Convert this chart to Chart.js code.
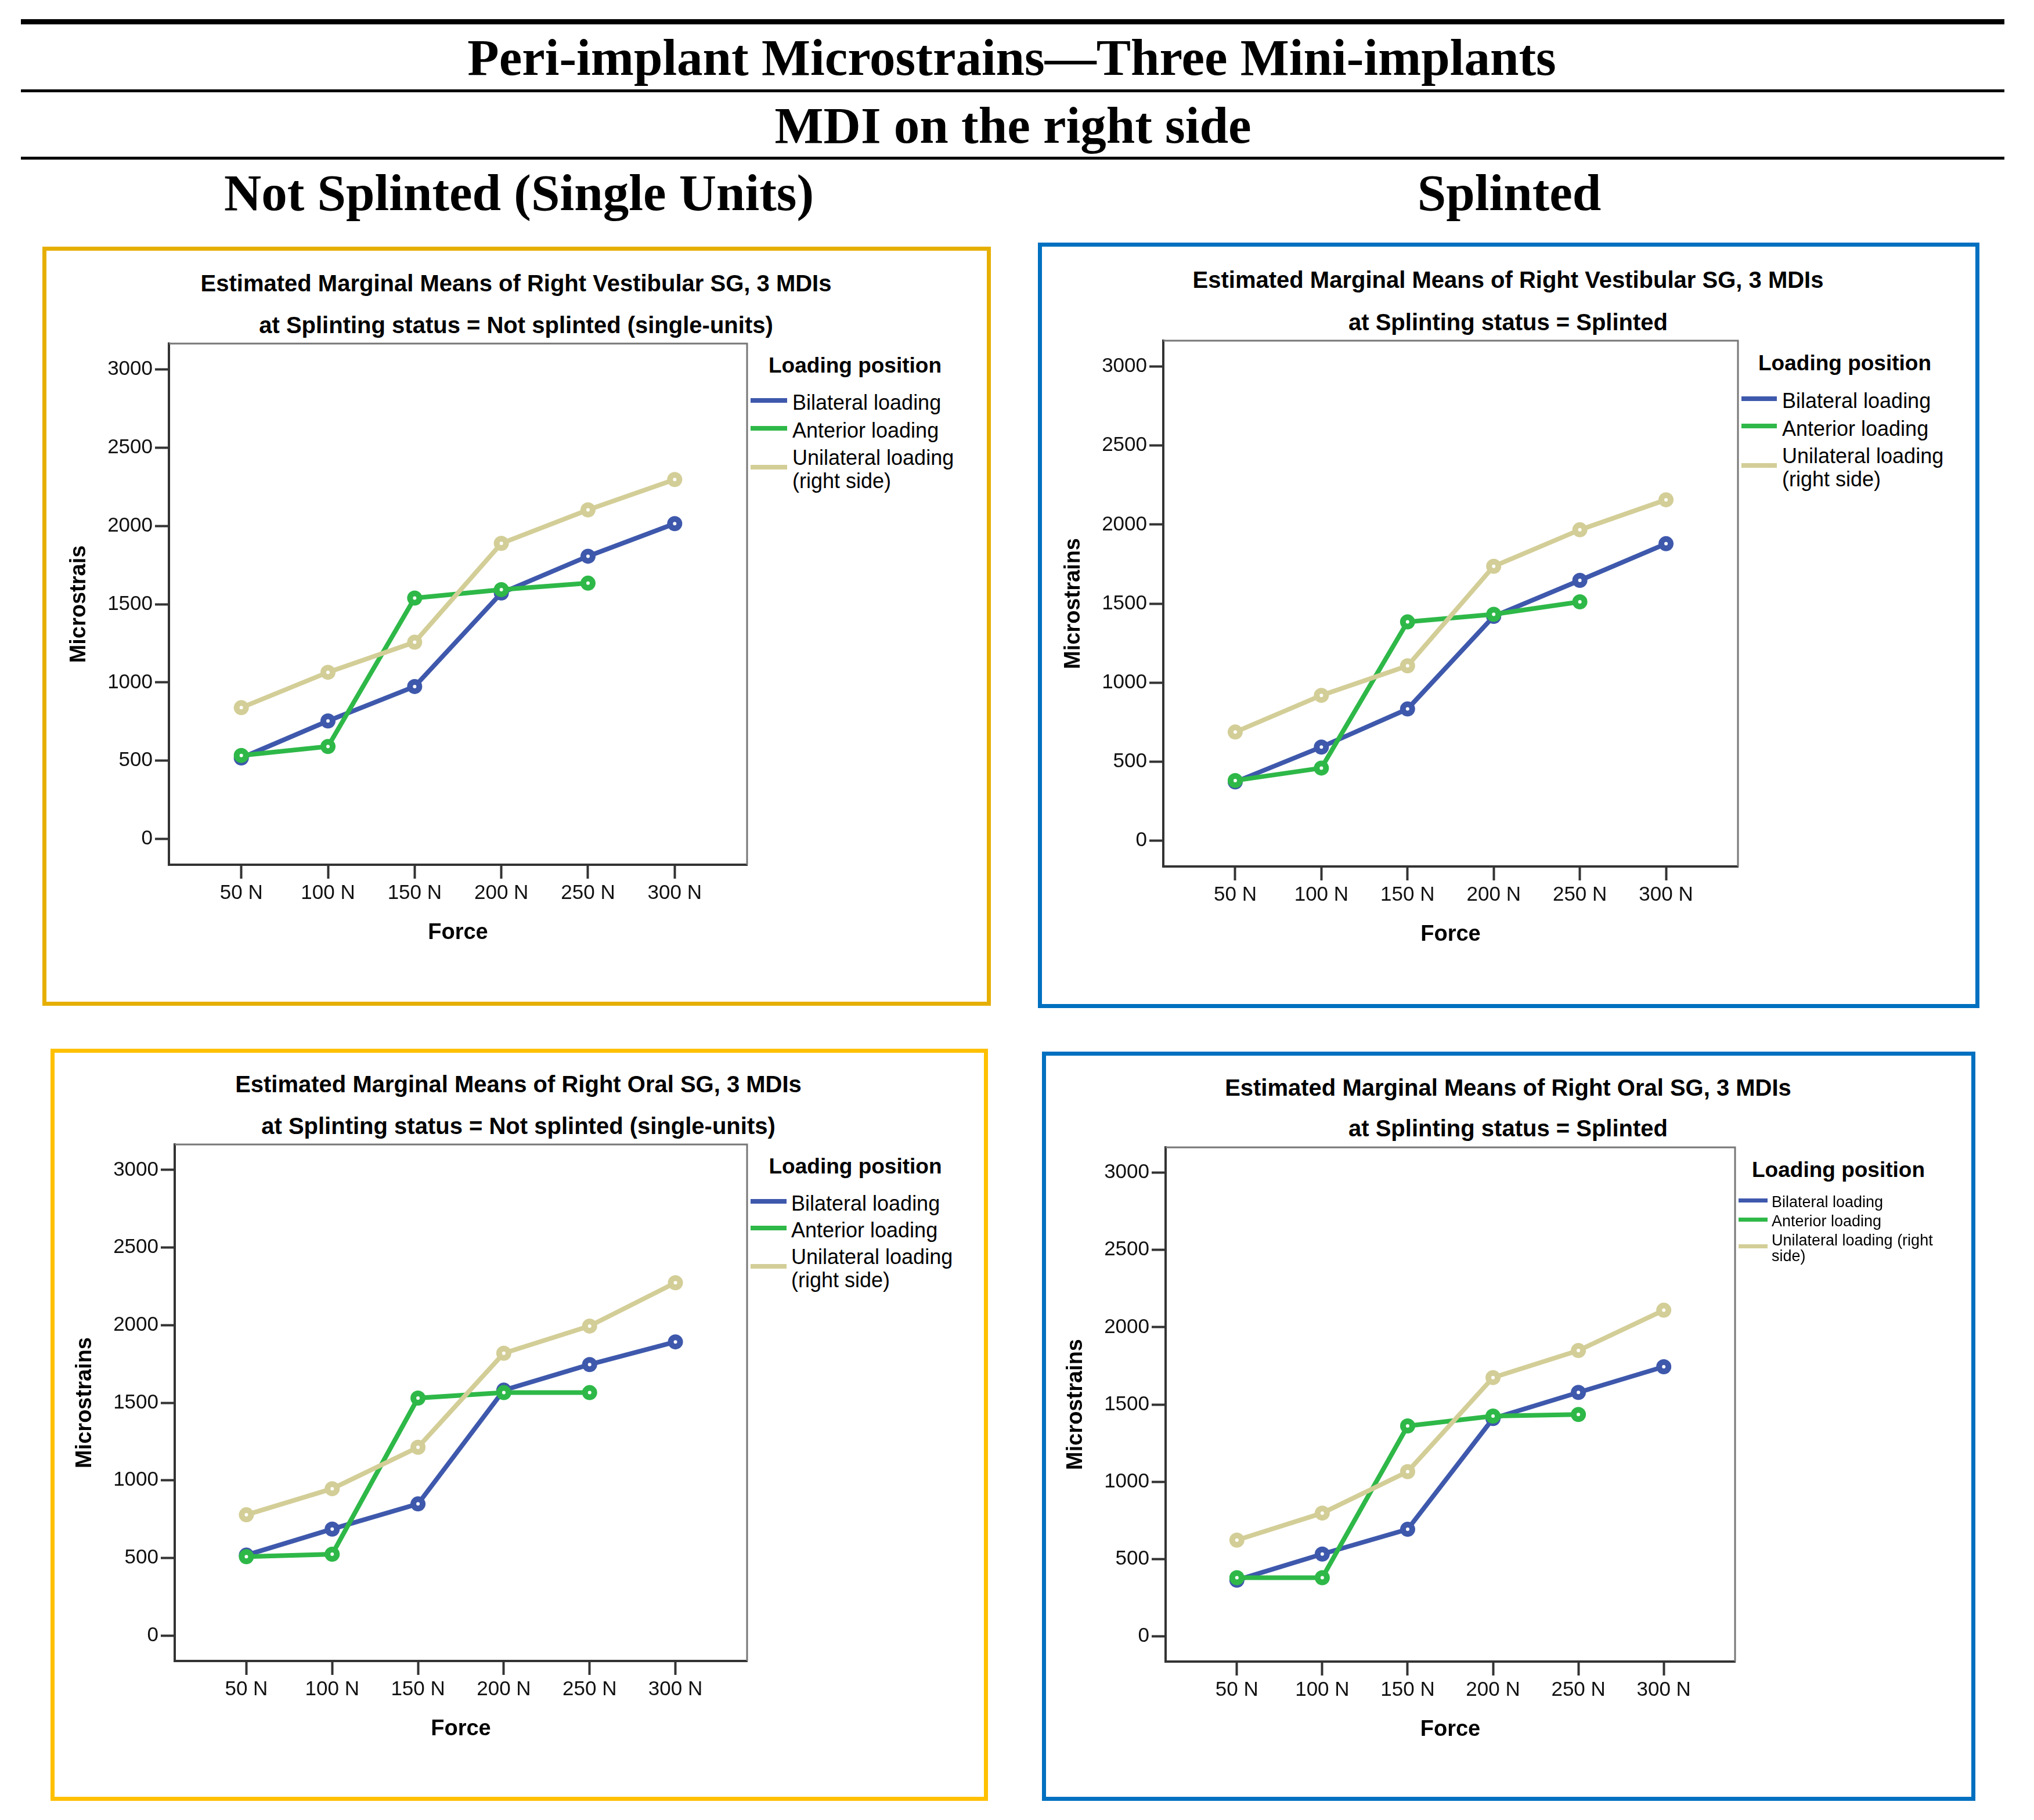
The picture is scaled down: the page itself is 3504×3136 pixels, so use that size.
<!DOCTYPE html>
<html>
<head>
<meta charset="utf-8">
<title>Peri-implant Microstrains - Three Mini-implants</title>
<script src="https://cdn.jsdelivr.net/npm/chart.js@4.4.1/dist/chart.umd.min.js"></script>
<style>
  html, body { margin: 0; padding: 0; background: #fff; }
  #page { position: relative; width: 3504px; height: 3136px; overflow: hidden;
          font-family: 'Liberation Sans', Arial, sans-serif; color: #000; }
  .rule { position: absolute; left: 36px; width: 3417px; background: #000; }
  .head { position: absolute; font-family: 'Liberation Serif', 'Times New Roman', serif;
          font-weight: bold; font-size: 89px; line-height: 89px; white-space: nowrap;
          transform: translateX(-50%); }
  .box { position: absolute; box-sizing: border-box; border: 7px solid; }
  .txt { position: absolute; white-space: nowrap; }
  canvas { position: absolute; }
</style>
</head>
<body>
<div id="page">
  <div class="rule" style="top:33px;height:9px"></div>
  <div class="rule" style="top:154px;height:5px"></div>
  <div class="rule" style="top:270px;height:5px"></div>
  <div class="head" style="left:1743px;top:55px">Peri-implant Microstrains—Three Mini-implants</div>
  <div class="head" style="left:1745px;top:172px">MDI on the right side</div>
  <div class="head" style="left:894px;top:288px">Not Splinted (Single Units)</div>
  <div class="head" style="left:2600px;top:288px">Splinted</div>
</div>
<script>
const forceLabels = ['50 N', '100 N', '150 N', '200 N', '250 N', '300 N'];
const yTickValues = [0, 500, 1000, 1500, 2000, 2500, 3000];
const seriesNames = ['Bilateral loading', 'Anterior loading', 'Unilateral loading (right side)'];
const seriesColors = ['#3E58AC', '#2EB848', '#D3CE97'];

// right vestibular SG, not splinted
const vestNotBilateral = [518, 754, 974, 1571, 1806, 2014];
const vestNotAnterior = [534, 591, 1539, 1593, 1634];
const vestNotUnilateral = [839, 1065, 1257, 1888, 2102, 2296];

// right vestibular SG, splinted
const vestSplBilateral = [371, 592, 833, 1419, 1647, 1879];
const vestSplAnterior = [380, 459, 1384, 1432, 1511];
const vestSplUnilateral = [687, 919, 1106, 1736, 1967, 2157];

// right oral SG, not splinted
const oralNotBilateral = [518, 686, 848, 1581, 1746, 1892];
const oralNotAnterior = [508, 524, 1530, 1565, 1565];
const oralNotUnilateral = [778, 946, 1213, 1819, 1994, 2273];

// right oral SG, splinted
const oralSplBilateral = [363, 532, 692, 1409, 1578, 1744];
const oralSplAnterior = [379, 379, 1361, 1425, 1435];
const oralSplUnilateral = [622, 797, 1065, 1674, 1849, 2110];

const vestTitle = 'Estimated Marginal Means of Right Vestibular SG, 3 MDIs';
const oralTitle = 'Estimated Marginal Means of Right Oral SG, 3 MDIs';
const notSplTitle = 'at Splinting status = Not splinted (single-units)';
const splTitle = 'at Splinting status = Splinted';

const bigLegend = { size: 36, lineH: 40, maxW: 330, thick: 8, shift: -4 };

const panels = [
  { box: [73, 425, 1707, 1733], boxColor: '#E6AF00', plot: [291, 592, 1293, 1490],
    title: [vestTitle, notSplTitle], titleX: 889, titleY: [488, 560], yTitle: 'Microstrais',
    series: [vestNotBilateral, vestNotAnterior, vestNotUnilateral],
    legend: Object.assign({ titleX: 1324, titleY: 629.5, labelX: 1365, sampleEnd: 1356, itemY: 694, gap: 47.5 }, bigLegend) },
  { box: [1788, 418, 3410, 1737], boxColor: '#0070C0', plot: [2004, 587, 3000, 1493],
    title: [vestTitle, splTitle], titleX: 2598, titleY: [481.5, 554.6], yTitle: 'Microstrains',
    series: [vestSplBilateral, vestSplAnterior, vestSplUnilateral],
    legend: Object.assign({ titleX: 3029, titleY: 625, labelX: 3070, sampleEnd: 3061, itemY: 691, gap: 47.4 }, bigLegend) },
  { box: [87, 1807, 1702, 3103], boxColor: '#FFC000', plot: [301, 1972, 1293, 2862],
    title: [oralTitle, notSplTitle], titleX: 893, titleY: [1868, 1940], yTitle: 'Microstrains',
    series: [oralNotBilateral, oralNotAnterior, oralNotUnilateral],
    legend: Object.assign({ titleX: 1324.5, titleY: 2009.5, labelX: 1363, sampleEnd: 1355, itemY: 2074, gap: 46 }, bigLegend) },
  { box: [1795, 1812, 3403, 3103], boxColor: '#0070C0', plot: [2008, 1977, 2995, 2863],
    title: [oralTitle, splTitle], titleX: 2598, titleY: [1874, 1944], yTitle: 'Microstrains',
    series: [oralSplBilateral, oralSplAnterior, oralSplUnilateral],
    legend: { titleX: 3018, titleY: 2015, labelX: 3052, sampleEnd: 3045, itemY: 2071.5, gap: 33,
              size: 27, lineH: 26.7, maxW: 300, thick: 7, shift: -3 } }
];

const page = document.getElementById('page');

// grey top and right edges of the plot frame
const frame = {
  id: 'frame',
  beforeDatasetsDraw(chart) {
    const { ctx, chartArea: a } = chart;
    ctx.save();
    ctx.strokeStyle = '#777';
    ctx.lineWidth = 3;
    ctx.beginPath();
    ctx.moveTo(a.left, a.top);
    ctx.lineTo(a.right, a.top);
    ctx.lineTo(a.right, a.bottom);
    ctx.stroke();
    ctx.restore();
  }
};

function addText(text, x, capY, size, bold, center) {
  const d = document.createElement('div');
  d.className = 'txt';
  d.textContent = text;
  d.style.fontSize = size + 'px';
  d.style.lineHeight = size + 'px';
  d.style.fontWeight = bold ? 'bold' : 'normal';
  d.style.left = x + 'px';
  d.style.top = (capY - 0.4885 * size) + 'px';
  if (center) d.style.transform = 'translateX(-50%)';
  page.appendChild(d);
  return d;
}

function drawPanel(p) {
  const box = document.createElement('div');
  box.className = 'box';
  box.style.left = p.box[0] + 'px';
  box.style.top = p.box[1] + 'px';
  box.style.width = (p.box[2] - p.box[0]) + 'px';
  box.style.height = (p.box[3] - p.box[1]) + 'px';
  box.style.borderColor = p.boxColor;
  page.appendChild(box);

  p.title.forEach((t, i) => addText(t, p.titleX, p.titleY[i], 40, true, true));

  const [l, t, r, b] = p.plot;
  const padTop = 30, padRight = 12, yW = 200, xH = 200;
  const w = r - l + yW + padRight, h = b - t + padTop + xH;
  const cv = document.createElement('canvas');
  cv.width = w; cv.height = h;
  cv.style.width = w + 'px'; cv.style.height = h + 'px';
  cv.style.left = (l - yW) + 'px'; cv.style.top = (t - padTop) + 'px';
  page.appendChild(cv);

  const axisGrid = { drawOnChartArea: false, drawTicks: true, tickLength: 24, tickWidth: 4, tickColor: '#333' };
  const axisBorder = { display: true, color: '#333', width: 4 };

  const chart = new Chart(cv, {
    type: 'line',
    data: {
      datasets: p.series.map((vals, k) => ({
        label: seriesNames[k],
        data: vals.map((v, i) => ({ x: i, y: v })),
        borderColor: seriesColors[k],
        backgroundColor: seriesColors[k],
        borderWidth: 8,
        pointRadius: 8,
        pointBorderWidth: 10,
        pointBackgroundColor: '#fff',
        pointBorderColor: seriesColors[k],
        tension: 0,
        order: 3 - k
      }))
    },
    options: {
      responsive: false,
      animation: false,
      devicePixelRatio: 1,
      events: [],
      layout: { padding: { top: padTop, right: padRight, left: 0, bottom: 0 } },
      plugins: { legend: { display: false }, tooltip: { enabled: false } },
      scales: {
        x: {
          type: 'linear', min: -0.835, max: 5.835,
          afterBuildTicks: s => { s.ticks = forceLabels.map((_, i) => ({ value: i })); },
          afterFit: s => { s.height = xH; },
          ticks: { callback: v => forceLabels[v], color: '#111', font: { size: 35 }, padding: 4, maxRotation: 0, autoSkip: false },
          grid: axisGrid,
          border: axisBorder,
          title: { display: true, text: 'Force', color: '#000', font: { size: 38, weight: 'bold' }, padding: { top: 0, bottom: 60 } }
        },
        y: {
          type: 'linear', min: -164, max: 3164,
          afterBuildTicks: s => { s.ticks = yTickValues.map(v => ({ value: v })); },
          afterFit: s => { s.width = yW; },
          ticks: { callback: v => String(v), color: '#111', font: { size: 35 }, padding: 4, autoSkip: false },
          grid: axisGrid,
          border: axisBorder,
          title: { display: true, text: p.yTitle, color: '#000', font: { size: 38, weight: 'bold' }, padding: { top: 23, bottom: 0 } }
        }
      }
    },
    plugins: [frame]
  });

  // legend built from the chart's own datasets
  const g = p.legend;
  addText('Loading position', g.titleX, g.titleY, 37, true, false);
  chart.data.datasets.forEach((ds, k) => {
    const cap = g.itemY + k * g.gap;
    const lab = document.createElement('div');
    lab.className = 'txt';
    lab.textContent = ds.label;
    lab.style.whiteSpace = 'normal';
    lab.style.width = g.maxW + 'px';
    lab.style.fontSize = g.size + 'px';
    lab.style.lineHeight = g.lineH + 'px';
    lab.style.left = g.labelX + 'px';
    lab.style.top = (cap - g.lineH / 2 + 0.0115 * g.size) + 'px';
    page.appendChild(lab);
    const lines = Math.max(1, Math.round(lab.offsetHeight / g.lineH));
    const mid = cap + (lines - 1) * g.lineH / 2 + g.shift;
    const sw = document.createElement('div');
    sw.style.position = 'absolute';
    sw.style.left = r + 'px';
    sw.style.width = (g.sampleEnd - r) + 'px';
    sw.style.top = (mid - g.thick / 2) + 'px';
    sw.style.height = g.thick + 'px';
    sw.style.background = ds.borderColor;
    page.appendChild(sw);
  });
}

panels.forEach(drawPanel);
</script>
</body>
</html>
